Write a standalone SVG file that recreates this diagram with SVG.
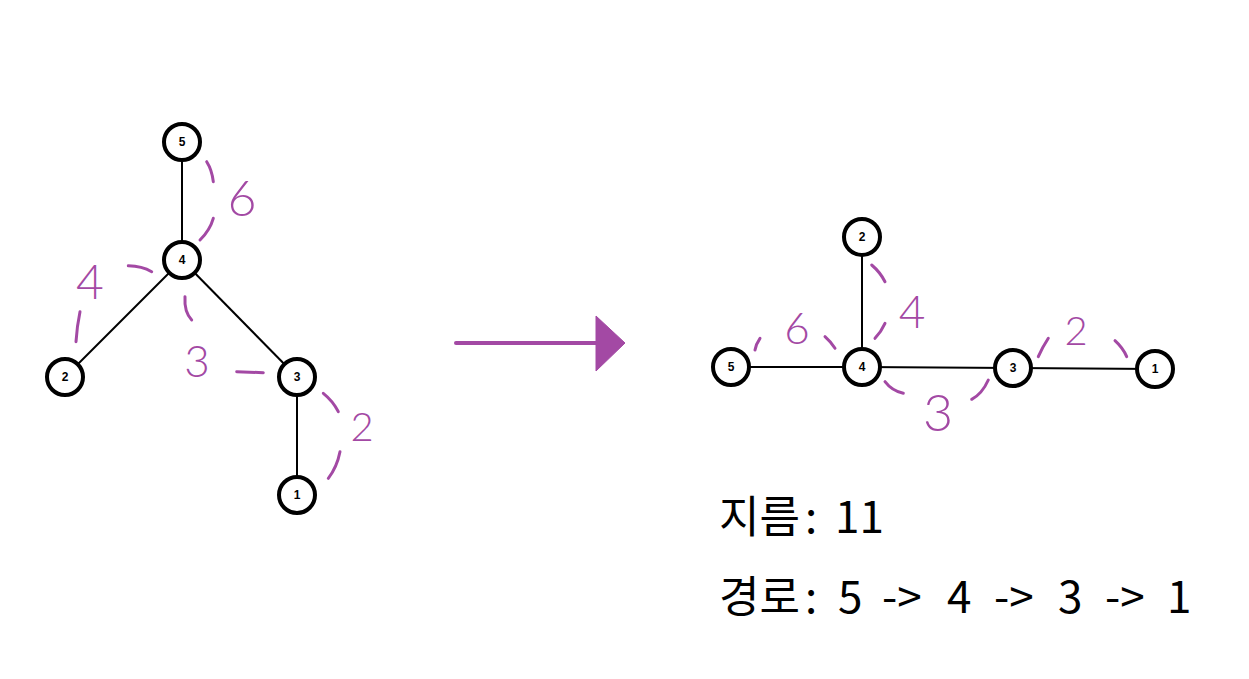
<svg xmlns="http://www.w3.org/2000/svg" width="1249" height="679" viewBox="0 0 1249 679">
<style>
.node circle{fill:#fff;stroke:#000;stroke-width:4}
.node text{font-family:"Liberation Sans",Arial,sans-serif;font-weight:bold;font-size:12px;text-anchor:middle;dominant-baseline:central;fill:#000}
.edge{stroke:#000;stroke-width:2;fill:none}
.mark{stroke:#A349A4;stroke-width:3;fill:none;stroke-linecap:round}
.w{font-family:Lato,"Open Sans",sans-serif;font-weight:300;fill:#A349A4;text-anchor:middle;dominant-baseline:central}
.big{font-family:"Noto Sans CJK KR","Noto Sans",sans-serif;font-size:44px;fill:#000}
</style>
<rect width="1249" height="679" fill="#fff"/>
<g id="connectors">
<line class="edge" x1="182" y1="142" x2="182" y2="260"/>
<line class="edge" x1="182" y1="260" x2="65" y2="377"/>
<line class="edge" x1="182" y1="260" x2="297" y2="377"/>
<line class="edge" x1="297" y1="377" x2="297" y2="495"/>
<line class="edge" x1="862" y1="237" x2="862" y2="367"/>
<line class="edge" x1="731" y1="367" x2="862" y2="367"/>
<line class="edge" x1="862" y1="367" x2="1013" y2="368"/>
<line class="edge" x1="1013" y1="368" x2="1155" y2="369"/>
<g id="arrow">
<line x1="456" y1="343" x2="600" y2="343" stroke="#A349A4" stroke-width="4" stroke-linecap="round"/>
<polygon points="596,316 625,343 596,371" fill="#A349A4" stroke="#A349A4" stroke-width="1" stroke-linejoin="round"/>
</g>
</g>
<g id="annotations">
<path class="mark" d="M206.7,161.7 Q212,170 213.3,181.7"/>
<path class="mark" d="M213.3,218.3 Q210,230 200,240"/>
<path class="mark" d="M128.3,265.7 Q142,266 151.7,271.7"/>
<path class="mark" d="M80,311.7 Q77,326 76,341.7"/>
<path class="mark" d="M185,296.7 Q184,312 191.7,320"/>
<path class="mark" d="M236.7,371.7 L263.3,372.7"/>
<path class="mark" d="M323.3,393.3 Q333,401 338.3,411.7"/>
<path class="mark" d="M340,451.7 Q337,467 328.3,478.3"/>
<path class="mark" d="M871.7,265 Q880,272 885,281.7"/>
<path class="mark" d="M885,323.3 Q881,332 875,338.3"/>
<path class="mark" d="M760,338.3 Q756,344 755,350"/>
<path class="mark" d="M825,336.7 Q831,342 835,348.3"/>
<path class="mark" d="M885,381.7 Q892,391 903.3,393.3"/>
<path class="mark" d="M988.3,380 Q982,394 971.7,399.3"/>
<path class="mark" d="M1048.3,338.3 Q1042,348 1038.3,356.7"/>
<path class="mark" d="M1115,340.7 Q1123,348 1126.7,356.7"/>
<text class="w" x="242" y="197" font-size="50">6</text>
<text class="w" x="90" y="280" font-size="48">4</text>
<text class="w" x="197" y="360" font-size="44">3</text>
<text class="w" x="362" y="426" font-size="40">2</text>
<text class="w" x="912" y="310" font-size="46">4</text>
<text class="w" x="797" y="327" font-size="44">6</text>
<text class="w" x="938" y="411" font-size="52">3</text>
<text class="w" x="1076" y="330" font-size="40">2</text>
</g>
<g id="n5L" class="node"><circle cx="182" cy="142" r="18"/><text x="182" y="142">5</text></g>
<g id="n4L" class="node"><circle cx="182" cy="260" r="18"/><text x="182" y="260">4</text></g>
<g id="n2L" class="node"><circle cx="65" cy="377" r="18"/><text x="65" y="377">2</text></g>
<g id="n3L" class="node"><circle cx="297" cy="377" r="18"/><text x="297" y="377">3</text></g>
<g id="n1L" class="node"><circle cx="297" cy="495" r="18"/><text x="297" y="495">1</text></g>
<g id="n2R" class="node"><circle cx="862" cy="237" r="18"/><text x="862" y="237">2</text></g>
<g id="n5R" class="node"><circle cx="731" cy="367" r="18"/><text x="731" y="367">5</text></g>
<g id="n4R" class="node"><circle cx="862" cy="367" r="18"/><text x="862" y="367">4</text></g>
<g id="n3R" class="node"><circle cx="1013" cy="368" r="18"/><text x="1013" y="368">3</text></g>
<g id="n1R" class="node"><circle cx="1155" cy="369" r="18"/><text x="1155" y="369">1</text></g>
<g id="result">
<text class="big" y="533"><tspan x="719">지름</tspan><tspan x="805">:</tspan><tspan x="835">11</tspan></text>
<text class="big" y="613"><tspan x="719">경로</tspan><tspan x="805">:</tspan><tspan x="838">5</tspan><tspan x="882">-&gt;</tspan><tspan x="947">4</tspan><tspan x="994">-&gt;</tspan><tspan x="1058">3</tspan><tspan x="1105">-&gt;</tspan><tspan x="1167">1</tspan></text>
</g>
</svg>
